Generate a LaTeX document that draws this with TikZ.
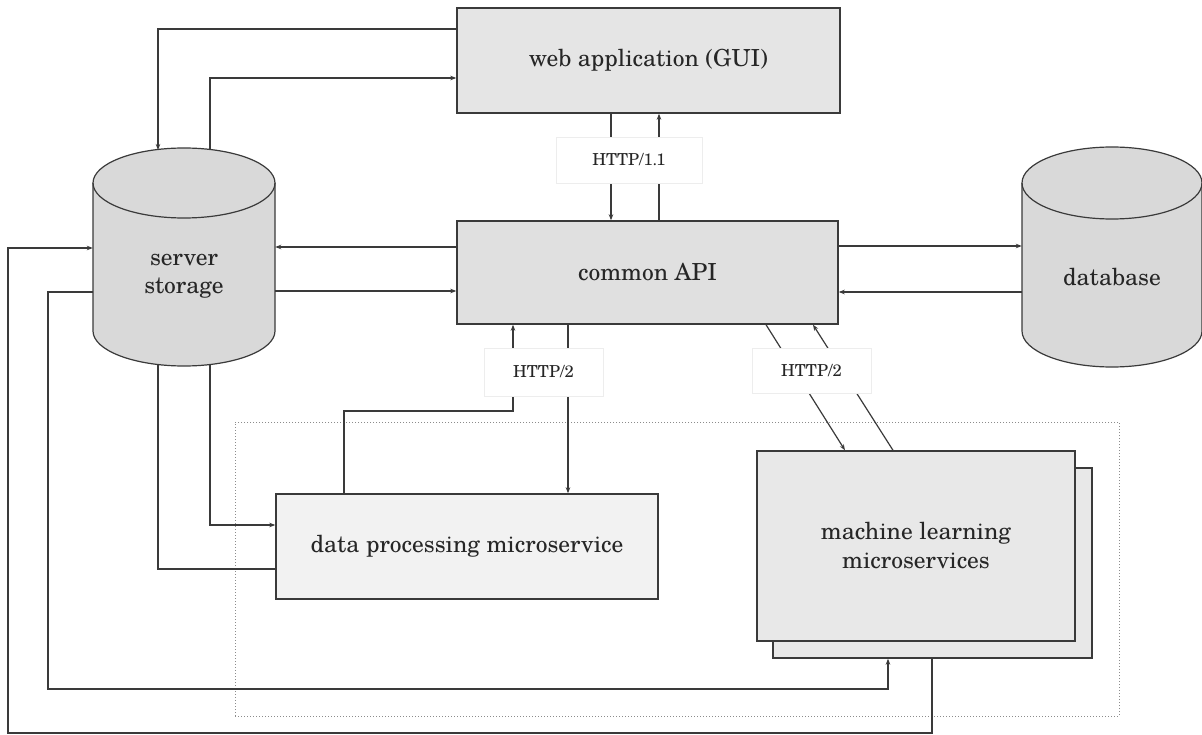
\documentclass[tikz,border=0pt]{standalone}
\usepackage{fontspec}
\setmainfont{texgyreschola}[Extension=.otf,UprightFont=*-regular,BoldFont=*-bold]
\usetikzlibrary{arrows.meta,calc}
\definecolor{linec}{HTML}{3A3A3A}
\definecolor{textc}{HTML}{262626}
\begin{document}
\begin{tikzpicture}[x=1pt,y=-1pt,
  box/.style={draw=linec,line width=1.4pt,inner sep=0pt,font=\fontsize{23.5}{29}\selectfont,text=textc,align=center},
  lbl/.style={draw=black!7,fill=white,line width=0.6pt,inner sep=0pt,font=\fontsize{16.5}{19}\selectfont,text=textc},
  conn/.style={draw=linec,line width=1.2pt},
  arr/.style={conn,-{Stealth[length=6pt,width=4.5pt]}},
  cyl/.style={fill=black!15,draw=linec,line width=1.2pt},
  cyltext/.style={font=\fontsize{23.5}{28}\selectfont,text=textc,align=center}]
\useasboundingbox (0,0) rectangle (1202,735);

% dotted container
\node[draw=black!45,dotted,line width=1pt,minimum width=884pt,minimum height=294pt,inner sep=0pt] (grp) at (677,569) {};

% boxes
\node[box,fill=black!10,minimum width=383pt,minimum height=105pt] (web) at (648.5,60.5) {web application (GUI)};
\node[box,fill=black!12,minimum width=381pt,minimum height=103pt] (api) at (647.5,272.5) {common API};
\node[box,fill=black!5,minimum width=382pt,minimum height=105pt] (dp) at (467,546.5) {data processing microservice};
\node[box,fill=black!9,minimum width=319pt,minimum height=190pt] (mlback) at (932.5,563) {};
\node[box,fill=black!9,minimum width=318pt,minimum height=190pt] (ml) at (916,546) {machine learning\\microservices};

% cylinders
\path[cyl] (93,183) -- (93,331) arc[start angle=180,end angle=0,x radius=91,y radius=35] -- (275,183) arc[start angle=0,end angle=-180,x radius=91,y radius=35] -- cycle;
\draw[draw=linec,line width=1.2pt] (93,183) arc[start angle=180,end angle=0,x radius=91,y radius=35];
\node[inner sep=0pt,minimum width=182pt,minimum height=218pt] (ss) at (184,257) {};
\node[cyltext] (sst) at (184,276) {server\\storage};

\path[cyl] (1022,183) -- (1022,331) arc[start angle=180,end angle=0,x radius=90,y radius=36] -- (1202,183) arc[start angle=0,end angle=-180,x radius=90,y radius=36] -- cycle;
\draw[draw=linec,line width=1.2pt] (1022,183) arc[start angle=180,end angle=0,x radius=90,y radius=36];
\node[inner sep=0pt,minimum width=180pt,minimum height=220pt] (db) at (1112,257) {};
\node[cyltext] (dbt) at (1112,277) {database};

% connectors
\draw[arr] (web.west |- 0,29) -| (158,150);
\draw[arr] (210,150) |- (web.west |- 0,78);
\draw[arr] (api.west |- 0,247) -- (ss.east |- 0,247);
\draw[arr] (ss.east |- 0,291) -- (api.west |- 0,291);
\draw[arr] (api.east |- 0,246) -- (db.west |- 0,246);
\draw[arr] (db.west |- 0,292) -- (api.east |- 0,292);
\draw[arr] (web.south -| 611,0) -- (api.north -| 611,0);
\draw[arr] (api.north -| 659,0) -- (web.south -| 659,0);
\draw[arr] (dp.north -| 344,0) -- (344,411) -- (513,411) -- (api.south -| 513,0);
\draw[arr] (api.south -| 568,0) -- (dp.north -| 568,0);
\draw[arr] (api.south -| 766,0) -- (ml.north -| 845,0);
\draw[arr] (ml.north -| 893,0) -- (api.south -| 813,0);
\draw[arr] (210,364) |- (dp.west |- 0,525);
\draw[conn] (dp.west |- 0,569) -| (158,364);
\draw[arr] (ss.west |- 0,292) -| (48,689) -| (mlback.south -| 888,0);
\draw[arr] (mlback.south -| 932,0) -- (932,733) -| (8,248) -- (ss.west |- 0,248);

% labels
\node[lbl,minimum width=146pt,minimum height=46pt] (h11) at (629,160) {HTTP/1.1};
\node[lbl,minimum width=119pt,minimum height=48pt] (h2a) at (543.5,372) {HTTP/2};
\node[lbl,minimum width=119pt,minimum height=45pt] (h2b) at (811.5,370.5) {HTTP/2};
\end{tikzpicture}
\end{document}
